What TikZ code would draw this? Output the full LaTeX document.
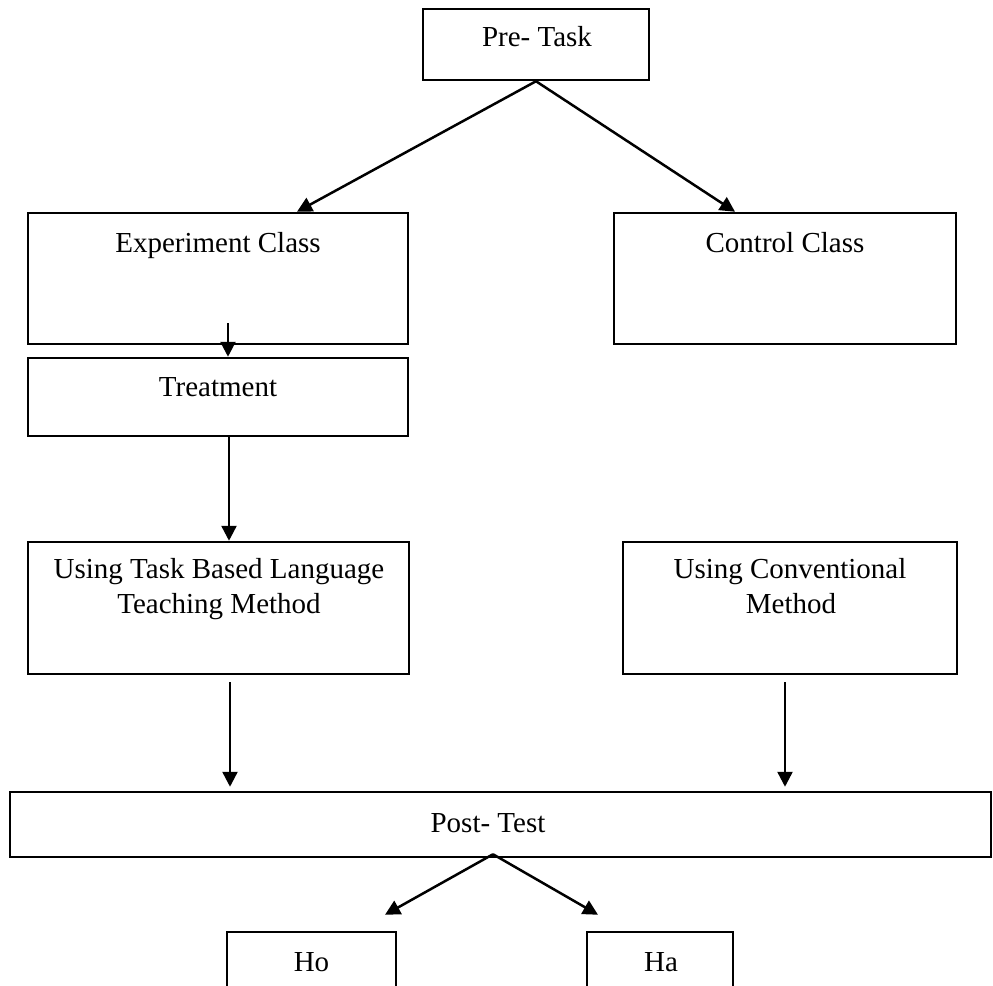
\documentclass[tikz,border=0pt]{standalone}
\usepackage{fontspec}
\setmainfont{Liberation Serif}
\usetikzlibrary{arrows.meta}
\begin{document}
\begin{tikzpicture}[x=0.4pt,y=-0.4pt,
  box/.style={draw, line width=1pt, inner sep=0pt, rectangle},
  lbl/.style={anchor=base, inner sep=0pt, font=\fontsize{11.6}{14}\selectfont},
  arr/.style={-{Triangle[length=6pt,width=6pt]}, line width=1pt}]
\useasboundingbox (0,0) rectangle (993,986);
\clip (0,0) rectangle (993,986);
% boxes
\node[box, minimum width=90.4pt, minimum height=28.4pt] (pre) at (536,44.5) {};
\node[box, minimum width=152pt, minimum height=52.4pt] (exp) at (218,278.5) {};
\node[box, minimum width=136.8pt, minimum height=52.4pt] (ctrl) at (785,278.5) {};
\node[box, minimum width=152pt, minimum height=31.2pt] (trt) at (218,397) {};
\node[box, minimum width=152.4pt, minimum height=52.8pt] (tblt) at (218.5,608) {};
\node[box, minimum width=133.6pt, minimum height=52.8pt] (conv) at (790,608) {};
\node[box, minimum width=392.4pt, minimum height=26pt] (post) at (500.5,824.5) {};
\node[box, minimum width=67.6pt, minimum height=31.2pt] (ho) at (311.5,971) {};
\node[box, minimum width=58.4pt, minimum height=31.2pt] (ha) at (660,971) {};
% labels
\node[lbl] (tpre) at (537,47) {Pre- Task};
\node[lbl] (texp) at (218,252) {Experiment Class};
\node[lbl] (tctrl) at (785,252) {Control Class};
\node[lbl] (ttrt) at (218,396) {Treatment};
\node[lbl] (ttblta) at (219,578) {Using Task Based Language};
\node[lbl] (ttbltb) at (219,613) {Teaching Method};
\node[lbl] (tconva) at (790,578) {Using Conventional};
\node[lbl] (tconvb) at (791,613) {Method};
\node[lbl] (tpost) at (488,832) {Post- Test};
\node[lbl] (tho) at (311.5,971) {Ho};
\node[lbl] (tha) at (661,971) {Ha};
% connectors
\draw[arr] (pre.south) -- ([xshift=31.6pt]exp.north);
\draw[arr] (pre.south) -- ([xshift=-20pt]ctrl.north);
\draw[arr] ([xshift=4pt,yshift=8.8pt]exp.south) -- ([xshift=4pt]trt.north);
\draw[arr] ([xshift=4.4pt]trt.south) coordinate (s1) -- (s1 |- tblt.north);
\draw[arr, shorten >=1.6pt] ([xshift=4.6pt,yshift=-2.8pt]tblt.south) coordinate (s2) -- (s2 |- post.north);
\draw[arr, shorten >=1.6pt] ([xshift=-2pt,yshift=-2.8pt]conv.south) coordinate (s3) -- (s3 |- post.north);
\draw[arr] ([xshift=-3pt,yshift=1.6pt]post.south) -- ([xshift=29.4pt,yshift=6.4pt]ho.north);
\draw[arr] ([xshift=-3pt,yshift=1.6pt]post.south) -- ([xshift=-24.8pt,yshift=6.4pt]ha.north);
\end{tikzpicture}
\end{document}
